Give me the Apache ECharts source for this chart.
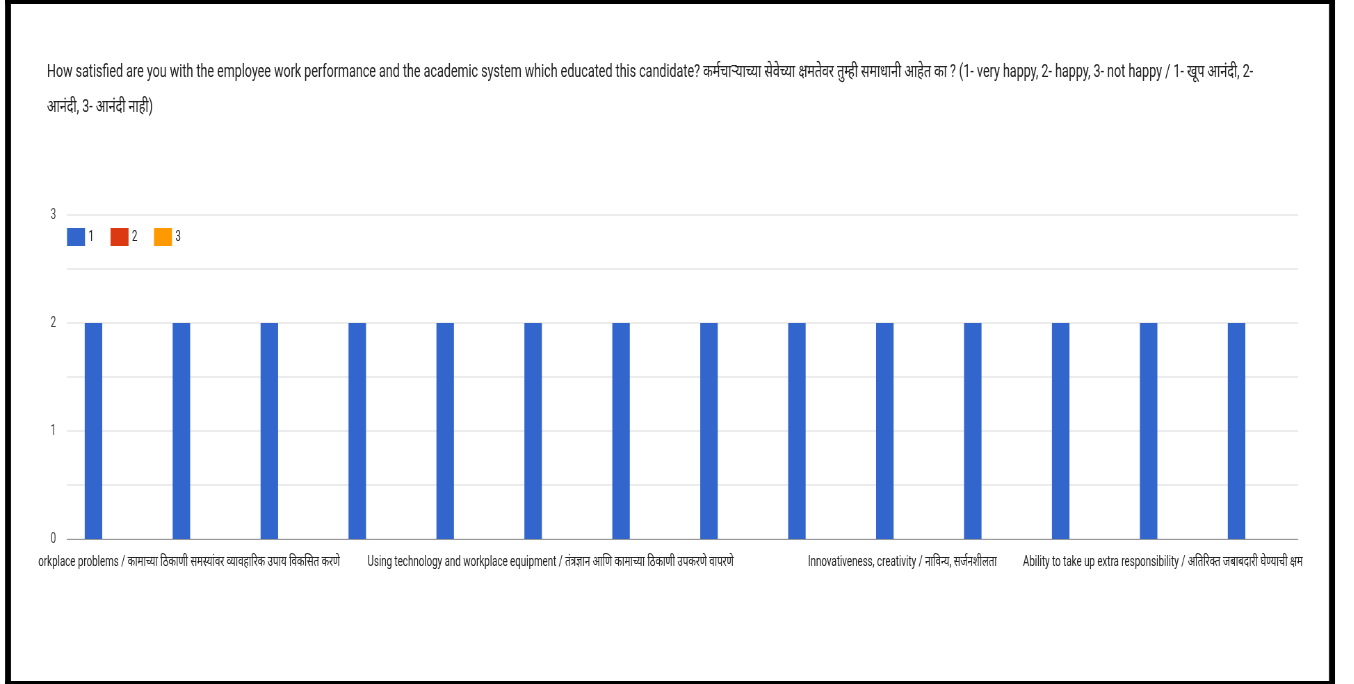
<!DOCTYPE html>
<html>
<head>
<meta charset="utf-8">
<script src="https://cdn.jsdelivr.net/npm/echarts@6/dist/echarts.min.js"></script>
<style>
html,body{margin:0;padding:0;background:#fff;overflow:hidden;width:1354px;height:684px;}
#chart{height:684px;transform-origin:0 0;}
</style>
</head>
<body>
<div id="chart"></div>
<script>
// ---- data ----
const titleLines = [
  "How satisfied are you with the employee work performance and the academic system which educated this candidate? कर्मचाऱ्याच्या सेवेच्या क्षमतेवर तुम्ही समाधानी आहेत का ? (1- very happy, 2- happy, 3- not happy / 1- खूप आनंदी, 2-",
  "आनंदी, 3- आनंदी नाही)"
];
const categories = [
  "Knowledge of the subject / विषयाचे ज्ञान",
  "Developing practical solutions to workplace problems / कामाच्या ठिकाणी समस्यांवर व्यावहारिक उपाय विकसित करणे",
  "Communication skills / संवाद कौशल्य",
  "Team work / सांघिक कार्य",
  "Time management / वेळेचे व्यवस्थापन",
  "Using technology and workplace equipment / तंत्रज्ञान आणि कामाच्या ठिकाणी उपकरणे वापरणे",
  "Leadership / नेतृत्व",
  "Decision making / निर्णय क्षमता",
  "Discipline / शिस्त",
  "Innovativeness, creativity / नाविन्य, सर्जनशीलता",
  "Adaptability / अनुकूलता",
  "Punctuality / वक्तशीरपणा",
  "Work ethics / कार्य नीतिमत्ता",
  "Ability to take up extra responsibility / अतिरिक्त जबाबदारी घेण्याची क्षमता"
];
// tick labels as they appear (clipped in the reference)
const tickLabels = {
  1: "orkplace problems / कामाच्या ठिकाणी समस्यांवर व्यावहारिक उपाय विकसित करणे",
  5: "Using technology and workplace equipment / तंत्रज्ञान आणि कामाच्या ठिकाणी उपकरणे वापरणे",
  9: "Innovativeness, creativity / नाविन्य, सर्जनशीलता",
  13: "Ability to take up extra responsibility / अतिरिक्त जबाबदारी घेण्याची क्षम"
};
const seriesNames = ["1", "2", "3"];
const values1 = [2,2,2,2,2,2,2,2,2,2,2,2,2,2];
const values2 = [0,0,0,0,0,0,0,0,0,0,0,0,0,0];
const values3 = [0,0,0,0,0,0,0,0,0,0,0,0,0,0];
const yTicks = [0, 1, 2, 3];

// ---- layout (reference is horizontally condensed; draw wide, then squeeze) ----
const FONT = "Roboto, 'Noto Sans', sans-serif";
const titleSize = 18, labelSize = 14;
const ctx = document.createElement('canvas').getContext('2d');
ctx.font = titleSize + "px " + FONT;
const s = 653 / ctx.measureText("How satisfied are you with the employee work performance and the academic system which educated this candidate?").width;
const W = 1354 / s;
const el = document.getElementById('chart');
el.style.width = W + 'px';
el.style.transform = 'scaleX(' + s + ')';
const X = (px) => px / s;   // reference px -> unscaled px

ctx.font = labelSize + "px " + FONT;
const w1 = ctx.measureText(tickLabels[1]).width;
const w13 = ctx.measureText(tickLabels[13]).width;
const wDigit = ctx.measureText("1").width;
const gridLeft = X(67), gridRight = X(56);
const slotW = (W - gridLeft - gridRight) / categories.length;
const c1 = gridLeft + slotW * 1.5, c13 = gridLeft + slotW * 13.5;
const pad1 = Math.max(0, w1 - 2 * (X(340) - c1));
const pad13 = Math.max(0, 2 * (c13 - X(1023)) - w13);
const legGap = Math.max(0, X(43.5) - X(18) - 5 - wDigit);

const chart = echarts.init(el, null, {renderer: 'canvas', width: W, height: 684});
const barCommon = {type: 'bar', barWidth: X(17.5), barGap: '0%'};
chart.setOption({
  animation: false,
  backgroundColor: '#fff',
  color: ['#3366cc', '#dc3912', '#ff9900'],
  title: {
    text: titleLines.join('\n'),
    left: X(47), top: 55, padding: 0,
    textStyle: {fontFamily: FONT, fontSize: titleSize, fontWeight: 'normal', color: '#222', lineHeight: 35}
  },
  legend: {
    data: seriesNames,
    left: X(67), top: 228, padding: 0,
    itemWidth: X(18), itemHeight: 18, itemGap: legGap,
    icon: 'rect',
    textStyle: {fontFamily: FONT, fontSize: labelSize, color: '#222'}
  },
  grid: {left: gridLeft, right: gridRight, top: 215, bottom: 145, containLabel: false},
  xAxis: {
    type: 'category',
    data: categories,
    axisTick: {show: false},
    axisLine: {show: true, lineStyle: {color: '#999', width: 1}},
    axisLabel: {
      interval: (i) => i % 4 === 1,
      hideOverlap: false,
      margin: 16,
      fontFamily: FONT, fontSize: labelSize, color: '#222',
      formatter: (v, i) => {
        const t = tickLabels[i] || '';
        if (i === 1) return '{a|' + t + '}';
        if (i === 13) return '{b|' + t + '}';
        return t;
      },
      rich: {
        a: {fontFamily: FONT, fontSize: labelSize, color: '#222', padding: [0, pad1, 0, 0]},
        b: {fontFamily: FONT, fontSize: labelSize, color: '#222', padding: [0, pad13, 0, 0]}
      }
    }
  },
  yAxis: {
    type: 'value',
    min: 0, max: 3, interval: 0.5,
    axisLine: {show: false}, axisTick: {show: false},
    splitLine: {lineStyle: {color: '#e6e6e6', width: 1.5}},
    axisLabel: {
      fontFamily: FONT, fontSize: labelSize, color: '#444', margin: X(11),
      formatter: (v) => yTicks.includes(v) ? String(v) : ''
    }
  },
  graphic: [
    {type: 'rect', shape: {x: X(5), y: 0, width: X(1330), height: 4}, style: {fill: '#000'}, z: 100},
    {type: 'rect', shape: {x: X(5), y: 0, width: X(6), height: 684}, style: {fill: '#000'}, z: 100},
    {type: 'rect', shape: {x: X(1329), y: 0, width: X(6), height: 684}, style: {fill: '#000'}, z: 100},
    {type: 'rect', shape: {x: X(5), y: 681, width: X(1330), height: 3}, style: {fill: '#000'}, z: 100}
  ],
  series: [
    Object.assign({name: seriesNames[0], data: values1}, barCommon),
    Object.assign({name: seriesNames[1], data: values2}, barCommon),
    Object.assign({name: seriesNames[2], data: values3}, barCommon)
  ]
});
</script>
</body>
</html>
